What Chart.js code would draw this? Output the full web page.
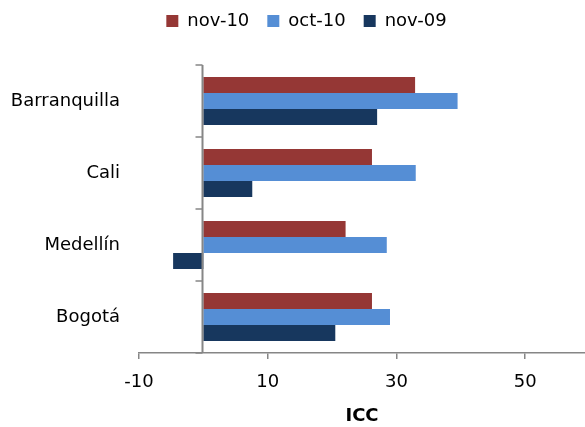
<!DOCTYPE html>
<html>
<head>
<meta charset="utf-8">
<script src="https://cdn.jsdelivr.net/npm/chart.js@4"></script>
<style>
html,body{margin:0;padding:0;background:#fff;}
#wrap{width:585px;height:427px;}
</style>
</head>
<body>
<div id="wrap"><canvas id="c" width="585" height="427"></canvas></div>
<script>
const categories = ["Barranquilla", "Cali", "Medellín", "Bogotá"];
const nov10 = [32.9, 26.2, 22.1, 26.2];
const oct10 = [39.5, 33.0, 28.5, 29.0];
const nov09 = [27.0, 7.6, -4.7, 20.5];
const xTicks = [-10, 10, 30, 50];
const seriesNames = ["nov-10", "oct-10", "nov-09"];

const FONT = "'DejaVu Sans', Verdana, Tahoma, sans-serif";
const AXIS_GRAY = "#868686";

const zeroAxis = {
  id: "zeroAxis",
  beforeLayout(chart) {
    const lg = chart.legend;
    if (lg && !lg._patched) {
      const f = lg.fit.bind(lg);
      lg.fit = function () { f(); this.height = 65; };
      lg._patched = true;
    }
  },
  afterLayout(chart) {
    const lg = chart.legend;
    if (lg) { lg.left += 14; lg.right += 14; lg.top -= 6; }
  },
  afterDatasetsDraw(chart) {
    const ctx = chart.ctx;
    const xs = chart.scales.x, ys = chart.scales.y;
    const x0 = Math.round(xs.getPixelForValue(0)) - 0.5;
    const area = chart.chartArea;
    ctx.save();
    ctx.strokeStyle = AXIS_GRAY;
    ctx.lineWidth = 2;
    ctx.beginPath();
    ctx.moveTo(x0, area.top);
    ctx.lineTo(x0, area.bottom);
    ctx.stroke();
    ctx.lineWidth = 1.5;
    const n = categories.length;
    for (let i = 0; i <= n; i++) {
      const y = ys.getPixelForValue(i - 0.5);
      ctx.beginPath();
      ctx.moveTo(x0 - 7, y);
      ctx.lineTo(x0, y);
      ctx.stroke();
    }
    ctx.restore();
  }
};

new Chart(document.getElementById("c"), {
  type: "bar",
  data: {
    labels: categories,
    datasets: [
      { label: seriesNames[0], data: nov10, backgroundColor: "#953735" },
      { label: seriesNames[1], data: oct10, backgroundColor: "#558ED5" },
      { label: seriesNames[2], data: nov09, backgroundColor: "#17375E" }
    ]
  },
  options: {
    indexAxis: "y",
    responsive: false,
    animation: false,
    devicePixelRatio: 1,
    layout: { padding: { left: 0, right: 0, top: 0, bottom: 0 } },
    datasets: { bar: { categoryPercentage: 0.667, barPercentage: 1.0, borderWidth: 0 } },
    plugins: {
      legend: {
        position: "top",
        labels: {
          boxWidth: 12, boxHeight: 12, padding: 18,
          color: "#000", font: { family: FONT, size: 18 }
        }
      },
      tooltip: { enabled: false }
    },
    scales: {
      x: {
        type: "linear",
        min: -10, max: 59.3,
        afterBuildTicks(scale) { scale.ticks = xTicks.map(v => ({ value: v })); },
        afterFit(scale) { scale.height = 74; },
        grid: { drawOnChartArea: false, drawTicks: true, tickLength: 6, color: AXIS_GRAY, lineWidth: 1.5 },
        border: { display: true, color: AXIS_GRAY, width: 1.5 },
        ticks: { color: "#000", font: { family: FONT, size: 18 }, padding: 13, maxRotation: 0 },
        title: { display: true, text: "ICC", color: "#000", font: { family: FONT, size: 18, weight: "bold" }, padding: { top: 0, bottom: 0 } }
      },
      y: {
        type: "category",
        afterFit(scale) { scale.width = 139; },
        grid: { display: false, drawTicks: false },
        border: { display: false },
        ticks: { color: "#000", font: { family: FONT, size: 18 }, padding: 19 }
      }
    }
  },
  plugins: [zeroAxis]
});
</script>
</body>
</html>
